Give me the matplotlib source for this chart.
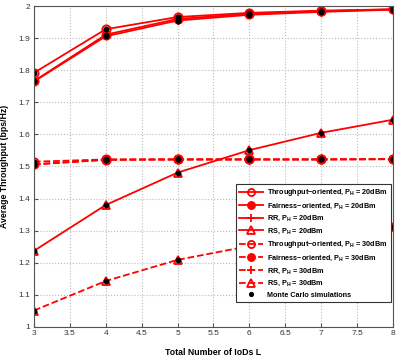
import numpy as np
import matplotlib.pyplot as plt

# Number of IoDs
L = [3, 4, 5, 6, 7, 8]

# P_H = 20 dBm
thr_20 = [1.792, 1.928, 1.966, 1.979, 1.986, 1.990]
fair_20 = [1.766, 1.911, 1.960, 1.976, 1.984, 1.990]
rr_20 = [1.765, 1.906, 1.955, 1.973, 1.982, 1.989]
rs_20 = [1.237, 1.380, 1.481, 1.551, 1.605, 1.646]

# P_H = 30 dBm
thr_30 = [1.515, 1.522, 1.522, 1.522, 1.522, 1.523]
fair_30 = [1.507, 1.521, 1.522, 1.522, 1.522, 1.523]
rr_30 = [1.506, 1.521, 1.522, 1.522, 1.522, 1.523]
rs_30 = [1.051, 1.143, 1.209, 1.252, 1.285, 1.311]

labels = [
    "Throughput\u2212oriented, P$_\\mathregular{H}$ = 20dBm",
    "Fairness\u2212oriented, P$_\\mathregular{H}$ = 20dBm",
    "RR, P$_\\mathregular{H}$ = 20dBm",
    "RS, P$_\\mathregular{H}$ = 20dBm",
    "Throughput\u2212oriented, P$_\\mathregular{H}$ = 30dBm",
    "Fairness\u2212oriented, P$_\\mathregular{H}$ = 30dBm",
    "RR, P$_\\mathregular{H}$ = 30dBm",
    "RS, P$_\\mathregular{H}$ = 30dBm",
]

plt.rcParams["font.family"] = ["Liberation Sans", "DejaVu Sans"]
plt.rcParams["mathtext.fontset"] = "custom"
plt.rcParams["mathtext.rm"] = "Liberation Sans:bold"
fig = plt.figure(figsize=(4.09, 3.6), dpi=100)
ax = fig.add_axes([0.083, 0.092, 0.878, 0.891])

series = [thr_20, fair_20, rr_20, rs_20, thr_30, fair_30, rr_30, rs_30]
markers = ["o", "o", "+", "^", "o", "o", "+", "^"]
fills = ["none", "red", "red", "none", "none", "red", "red", "none"]
for i, (ys, m, fc) in enumerate(zip(series, markers, fills)):
    ls = "-" if i < 4 else "--"
    ax.plot(L, ys, color="red", linestyle=ls, linewidth=1.3,
            marker=m, markersize=6, markerfacecolor=fc,
            markeredgecolor="red", markeredgewidth=1.3, label=labels[i])

# Monte Carlo points on every curve
for ys in series:
    ax.plot(L, ys, linestyle="none", marker="o", color="black", markersize=3.2)
ax.plot([], [], linestyle="none", marker="o", color="black", markersize=3.2,
        label="Monte Carlo simulations")

ax.set_xlim(3, 8)
ax.set_ylim(1, 2)
ax.set_xticks(np.arange(3, 8.01, 0.5))
ax.set_xticklabels(["3", "3.5", "4", "4.5", "5", "5.5", "6", "6.5", "7", "7.5", "8"])
ax.set_yticks(np.arange(1, 2.01, 0.1))
ax.set_yticklabels(["1", "1.1", "1.2", "1.3", "1.4", "1.5", "1.6", "1.7", "1.8", "1.9", "2"])
ax.tick_params(labelsize=6, direction="in", length=3, pad=2.5,
               colors="#555555", labelcolor="#333333")
ax.grid(True, linestyle=":", color="#bbbbbb", linewidth=0.8)
for s in ax.spines.values():
    s.set_color("#555555")

ax.set_xlabel("Total Number of IoDs L", fontsize=6.3, fontweight="bold", labelpad=8)
ax.set_ylabel("Average Throughput (bps/Hz)", fontsize=6.3, fontweight="bold", labelpad=7)

leg = ax.legend(loc="lower right", bbox_to_anchor=(0.995, 0.077), fontsize=5.2,
                numpoints=1, handlelength=3.3, handletextpad=0.6, markerscale=0.85,
                fancybox=False, edgecolor="#333333", framealpha=1,
                borderpad=0.5, labelspacing=0.45, borderaxespad=0)
leg.get_frame().set_linewidth(0.8)
for t in leg.get_texts():
    t.set_fontweight("bold")

fig.savefig("out.png", dpi=100)
